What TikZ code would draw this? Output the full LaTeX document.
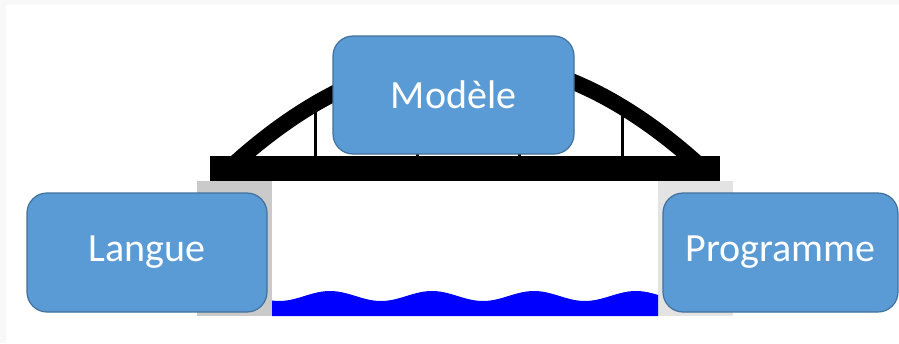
\documentclass[tikz,border=0pt]{standalone}
\usepackage{fontspec}
\setmainfont{Carlito}
\definecolor{boxfill}{HTML}{5B9BD5}
\definecolor{boxline}{HTML}{41719C}
\definecolor{pillarL}{HTML}{CACACA}
\definecolor{pillarR}{HTML}{E3E3E3}
\definecolor{water}{HTML}{0000FF}
\definecolor{bgedge}{HTML}{F8F8F8}
\tikzset{
  concept/.style={draw=boxline, line width=1.2pt, fill=boxfill, rounded corners=20pt,
    inner sep=0pt, text=white, font=\fontsize{40}{48}\selectfont},
  hanger/.style={draw=black, line width=3pt},
}
\begin{document}
\begin{tikzpicture}[x=1pt,y=-1pt]
\useasboundingbox (0,0) rectangle (899,343);
\fill[bgedge] (0,0) rectangle (899,343);
\fill[white] (6,5) rectangle (899,343);
% hangers
\draw[hanger] (315,104) -- (315,160);
\draw[hanger] (417,64) -- (417,160);
\draw[hanger] (519,65) -- (519,160);
\draw[hanger] (622,107) -- (622,160);
% arch
\draw[line width=16pt] (227.5,170) .. controls (386.5,22.8) and (545.5,22.8) .. (704.5,170);
% deck
\fill[black] (210,156) rectangle (720,181);
% pillars
\fill[pillarL] (197,181) rectangle (272,316);
\fill[pillarR] (658,181) rectangle (733,316);
% water
\fill[water] (272,316) -- plot[domain=272:658, samples=120] (\x, {296 - 5*cos(3.5294*(\x-330))}) -- (658,316) -- cycle;
% boxes
\node[concept, minimum width=241pt, minimum height=118pt] (modele) at (453.5,95) {Modèle};
\node[concept, minimum width=240pt, minimum height=119pt] (langue) at (147,252.5) {Langue};
\node[concept, minimum width=235pt, minimum height=119pt] (programme) at (780.5,252.5) {Programme};
\end{tikzpicture}
\end{document}
